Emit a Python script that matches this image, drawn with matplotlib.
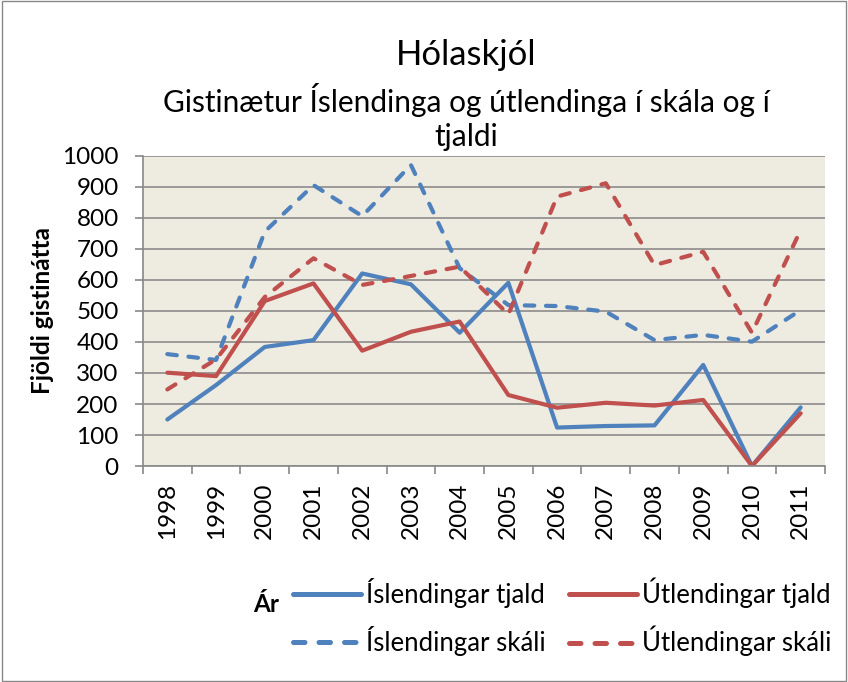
import matplotlib
matplotlib.use("Agg")
import matplotlib.pyplot as plt
from matplotlib.ticker import FixedLocator, NullFormatter

plt.rcParams['font.family'] = ['Lato', 'DejaVu Sans']

years = ['1998', '1999', '2000', '2001', '2002', '2003', '2004',
         '2005', '2006', '2007', '2008', '2009', '2010', '2011']
isl_tjald = [150, 261, 384, 406, 621, 586, 430, 591, 124, 129, 131, 326, 0, 189]
utl_tjald = [301, 290, 532, 589, 372, 433, 466, 229, 188, 204, 195, 213, 0, 170]
isl_skali = [361, 342, 756, 906, 806, 971, 638, 519, 516, 498, 406, 423, 401, 503]
utl_skali = [247, 344, 545, 670, 584, 613, 643, 489, 869, 912, 648, 691, 430, 761]

blue = '#4F81BD'
red = '#C0504D'

fig = plt.figure(figsize=(8.48, 6.82), dpi=100)
fig.patch.set_facecolor('white')
fig.patches.append(plt.Rectangle((0.002, 0.002), 0.996, 0.996, transform=fig.transFigure,
                                 fill=False, edgecolor='#888888', linewidth=1))

ax = fig.add_axes([0.1686, 0.3167, 0.8043, 0.4546])
ax.set_facecolor('#EEEBE0')
x = list(range(len(years)))
lw = 3.0
dash = (0, (2.3, 2.8))
l1, = ax.plot(x, isl_tjald, color=blue, lw=lw, label='Íslendingar tjald', solid_capstyle='round')
l2, = ax.plot(x, utl_tjald, color=red, lw=lw, label='Útlendingar tjald', solid_capstyle='round')
l3, = ax.plot(x, isl_skali, color=blue, lw=lw, ls=dash, label='Íslendingar skáli', dash_capstyle='round')
l4, = ax.plot(x, utl_skali, color=red, lw=lw, ls=dash, label='Útlendingar skáli', dash_capstyle='round')

ax.set_xlim(-0.5, len(years) - 0.5)
ax.set_ylim(0, 1000)
ax.set_yticks(range(0, 1001, 100))
ax.yaxis.grid(True, color='#8C8C8C', lw=1.2)
ax.set_axisbelow(True)
ax.set_xticks(x)
ax.set_xticklabels(years, rotation=90, fontsize=17.5)
ax.xaxis.set_minor_locator(FixedLocator([i - 0.5 for i in range(len(years) + 1)]))
ax.xaxis.set_minor_formatter(NullFormatter())
ax.tick_params(axis='x', which='major', length=0, pad=12)
ax.tick_params(axis='x', which='minor', length=5.5, color='#888888', width=1.2)
ax.tick_params(axis='y', length=5.5, color='#888888', width=1.2, labelsize=17.5, pad=12)
for s in ['top', 'right']:
    ax.spines[s].set_visible(False)
for s in ['left', 'bottom']:
    ax.spines[s].set_color('#888888')
    ax.spines[s].set_linewidth(1.2)

ax.set_ylabel('Fjöldi gistinátta', fontsize=17.5, fontweight='bold', labelpad=6)

cx = 0.55
fig.text(cx, 0.919, 'Hólaskjól', ha='center', va='center', fontsize=25)
fig.text(cx, 0.853, 'Gistinætur Íslendinga og útlendinga í skála og í', ha='center', va='center', fontsize=21.5)
fig.text(cx, 0.799, 'tjaldi', ha='center', va='center', fontsize=21.5)

fig.text(266 / 848, 1 - 604 / 682, 'Ár', ha='center', va='center', fontsize=17.5, fontweight='bold')

leg = fig.legend([l1, l3, l2, l4], [l1.get_label(), l3.get_label(), l2.get_label(), l4.get_label()],
                 loc='center left', bbox_to_anchor=(280 / 848, 1 - 617 / 682), ncol=2, frameon=False,
                 fontsize=18.5, handlelength=2.65, handletextpad=0.2, columnspacing=0.9,
                 labelspacing=0.7, borderpad=0)
for h in leg.legend_handles:
    h.set_linewidth(3.6)

fig.savefig('out.png', dpi=100)
